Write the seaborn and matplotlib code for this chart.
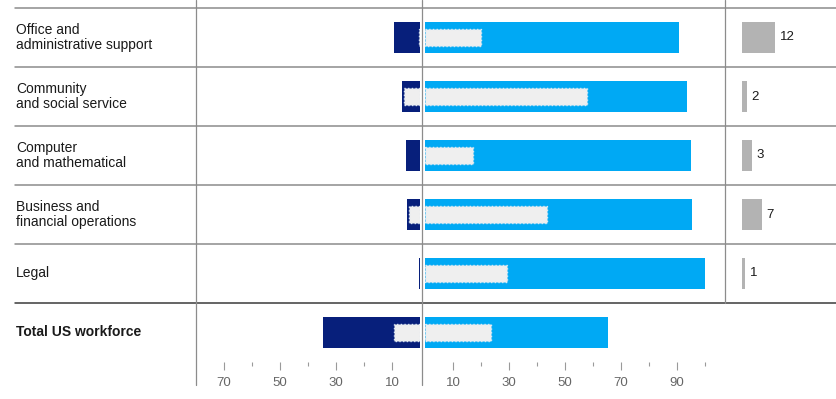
import numpy as np
import pandas as pd
import matplotlib
matplotlib.use("Agg")
import matplotlib.pyplot as plt
from matplotlib.lines import Line2D
from matplotlib.transforms import blended_transform_factory
import seaborn as sns

# ---------------- data ----------------
categories = ["Office and\nadministrative support", "Community\nand social service",
              "Computer\nand mathematical", "Business and\nfinancial operations",
              "Legal", "Total US workforce"]
left_total = [9.3, 6.4, 5.0, 4.6, 0.4, 34.7]
left_inner = [0.5, 5.7, np.nan, 4.0, np.nan, 9.2]
right_total = [90.7, 93.6, 95.0, 95.4, 100.0, 65.3]
right_inner = [20.0, 58.0, 17.0, 43.5, 29.2, 23.6]
side_values = [11.9, 1.8, 3.6, 7.1, 1.1]
side_labels = ["12", "2", "3", "7", "1"]
left_ticks = [10, 30, 50, 70]
left_minor = [20, 40, 60]
right_ticks = [10, 30, 50, 70, 90]
right_minor = [20, 40, 60, 80, 100]

NAVY = "#071F7B"
BLUE = "#00A9F4"
FILL = "#EFEFEF"
DOT = "#DCE8F3"
GREY = "#B3B3B3"
LINE = "#8C8C8C"

sns.set_style("white")
plt.rcParams["font.family"] = ["Liberation Sans", "DejaVu Sans"]

W, H = 837, 399
def fx(px):
    return px / W
def fy(py):
    return 1 - py / H

fig = plt.figure(figsize=(W / 100, H / 100), dpi=100)
top, bottom = 8, 362
def add_ax(x0, x1):
    ax = fig.add_axes([fx(x0), fy(bottom), (x1 - x0) / W, (bottom - top) / H])
    ax.patch.set_alpha(0)
    return ax

axL = add_ax(196, 420)
axR = add_ax(425, 725)
axS = add_ax(742, 837)

df = pd.DataFrame({"cat": categories, "lt": left_total, "li": left_inner,
                   "rt": right_total, "ri": right_inner})
df_side = pd.DataFrame({"cat": categories[:len(side_values)], "v": side_values})

common = dict(y="cat", order=categories, saturation=1, errorbar=None)
sns.barplot(data=df, x="lt", color=NAVY, width=0.525, ax=axL, linewidth=0, **common)
sns.barplot(data=df.dropna(subset=["li"]), x="li", color=FILL, width=0.295, ax=axL,
            edgecolor=DOT, linewidth=1.0, linestyle=":", **common)
sns.barplot(data=df, x="rt", color=BLUE, width=0.525, ax=axR, linewidth=0, **common)
sns.barplot(data=df, x="ri", color=FILL, width=0.295, ax=axR,
            edgecolor=DOT, linewidth=1.0, linestyle=":", **common)
sns.barplot(data=df_side, x="v", color=GREY, width=0.525, ax=axS, linewidth=0, **common)

for i, (v, lab) in enumerate(zip(side_values, side_labels)):
    axS.annotate(lab, xy=(v, i), xytext=(3.2, 0), textcoords="offset points",
                 va="center", ha="left", fontsize=9.5, color="#1a1a1a")

for ax in (axL, axR, axS):
    ax.set_ylim(len(categories) - 0.5, -0.5)
    ax.set_yticks([])
    ax.set_xlabel("")
    ax.set_ylabel("")
    for s in ax.spines.values():
        s.set_visible(False)

axL.set_xlim(80, 0)
axL.set_xticks(left_ticks)
axL.set_xticks(left_minor, minor=True)
axR.set_xlim(0, 300 / 2.8)
axR.set_xticks(right_ticks)
axR.set_xticks(right_minor, minor=True)
axS.set_xlim(0, 95 / 2.8)
axS.set_xticks([])
for ax in (axL, axR):
    ax.tick_params(axis="x", which="major", length=5.5, width=0.8, color="#9a9a9a",
                   labelsize=9.5, labelcolor="#666666", pad=5, direction="out", bottom=True)
    ax.tick_params(axis="x", which="minor", length=3, width=0.8, color="#9a9a9a",
                   direction="out", bottom=True)

# row separators and labels
tr = blended_transform_factory(fig.transFigure, axL.transData)
for k in range(len(categories)):
    y = k - 0.5
    color = "#3a3a3a" if k == len(categories) - 1 else LINE
    fig.add_artist(Line2D([fx(15), 1], [y, y], transform=tr, color=color, lw=1.1))
for k, lab in enumerate(categories):
    fig.text(fx(16), k, lab, transform=tr, va="center", ha="left", fontsize=10,
             linespacing=1.15, color="#1a1a1a",
             fontweight="bold" if k == len(categories) - 1 else "normal")

# vertical dividers
for x, y1 in ((196, 385), (422.5, 385), (725, 303)):
    fig.add_artist(Line2D([fx(x), fx(x)], [fy(0), fy(y1)], transform=fig.transFigure,
                          color=LINE, lw=0.9))

fig.savefig("out.png", dpi=100)
